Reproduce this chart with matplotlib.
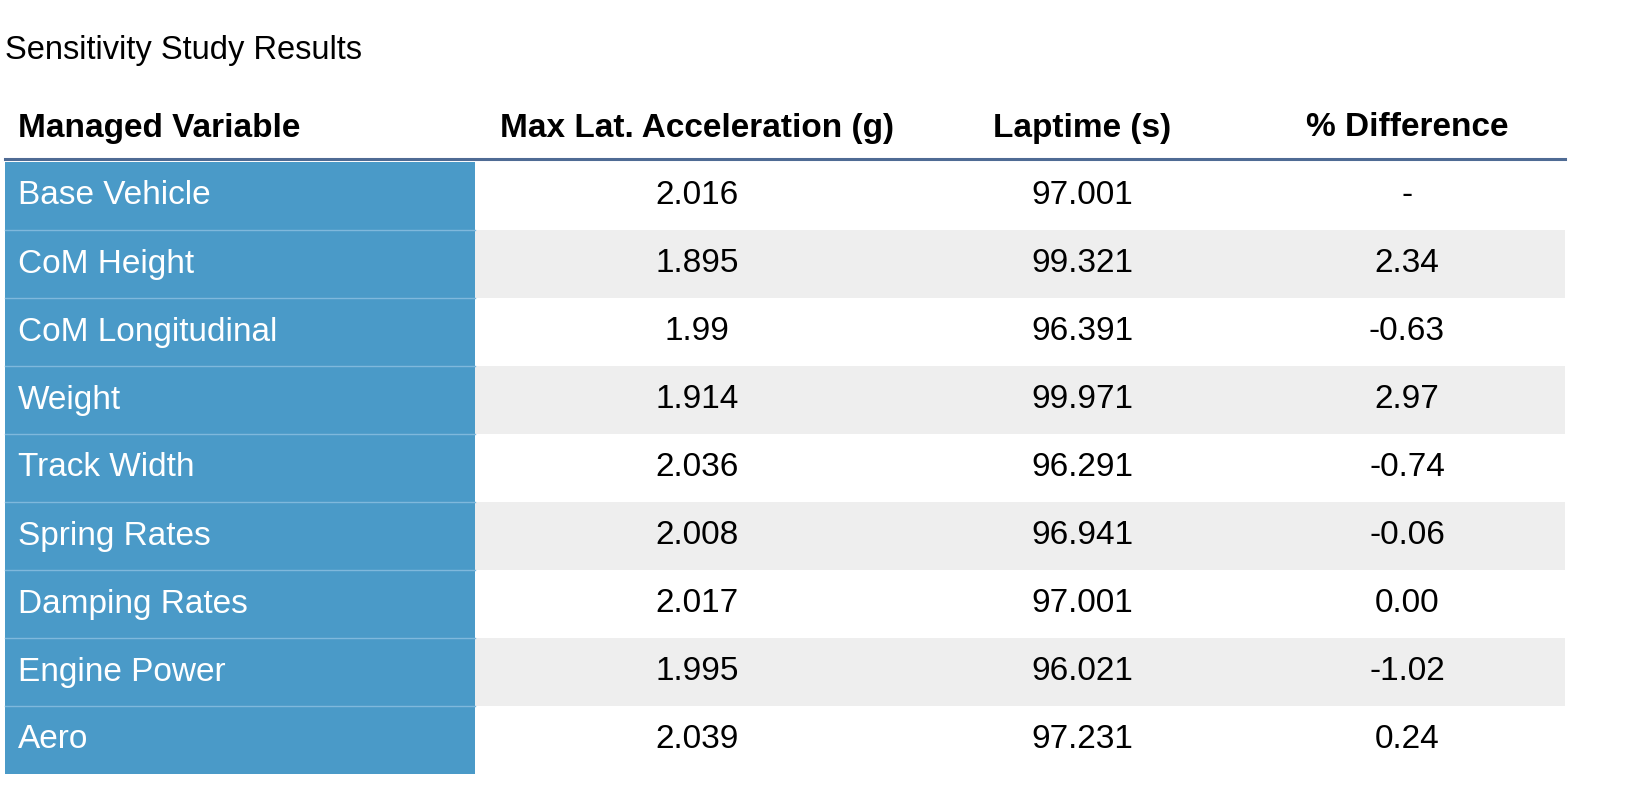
import matplotlib
matplotlib.use("Agg")
import matplotlib.pyplot as plt
from matplotlib.patches import Rectangle

title = "Sensitivity Study Results"
headers = ["Managed Variable", "Max Lat. Acceleration (g)", "Laptime (s)", "% Difference"]
variables = ["Base Vehicle", "CoM Height", "CoM Longitudinal", "Weight", "Track Width",
             "Spring Rates", "Damping Rates", "Engine Power", "Aero"]
max_lat = ["2.016", "1.895", "1.99", "1.914", "2.036", "2.008", "2.017", "1.995", "2.039"]
laptime = ["97.001", "99.321", "96.391", "99.971", "96.291", "96.941", "97.001", "96.021", "97.231"]
pct_diff = ["-", "2.34", "-0.63", "2.97", "-0.74", "-0.06", "0.00", "-1.02", "0.24"]

W, H = 1629, 807
fig = plt.figure(figsize=(W/100, H/100), dpi=100)
ax = fig.add_axes([0, 0, 1, 1])
ax.set_xlim(0, W); ax.set_ylim(H, 0); ax.axis("off")

font = "Liberation Sans"
fs = 24
ax.text(5, 50, title, fontsize=23.5, family=font, va="center", ha="left")
hy = 128
ax.text(18, hy, headers[0], fontsize=fs, family=font, weight="bold", va="center")
cx = [697, 1082, 1407]
for x, h in zip(cx, headers[1:]):
    ax.text(x, hy, h, fontsize=fs, family=font, weight="bold", va="center", ha="center")
ax.plot([5, 1565], [159, 159], color="#4f6b94", lw=2.2)

top, rh = 162, 68
for i, name in enumerate(variables):
    y0 = top + i*rh
    yc = y0 + rh/2
    if i % 2 == 1:
        ax.add_patch(Rectangle((475, y0), 1565-475, rh, color="#eeeeee", lw=0))
    ax.add_patch(Rectangle((5, y0), 470, rh, color="#4a9ac8", lw=0))
    if i > 0:
        ax.plot([5, 475], [y0, y0], color="#7fb8dc", lw=1)
    ax.text(18, yc, name, fontsize=fs, family=font, color="white", va="center")
    for x, v in zip(cx, [max_lat[i], laptime[i], pct_diff[i]]):
        ax.text(x, yc, v, fontsize=fs, family=font, va="center", ha="center")

fig.savefig("out.png", dpi=100)
